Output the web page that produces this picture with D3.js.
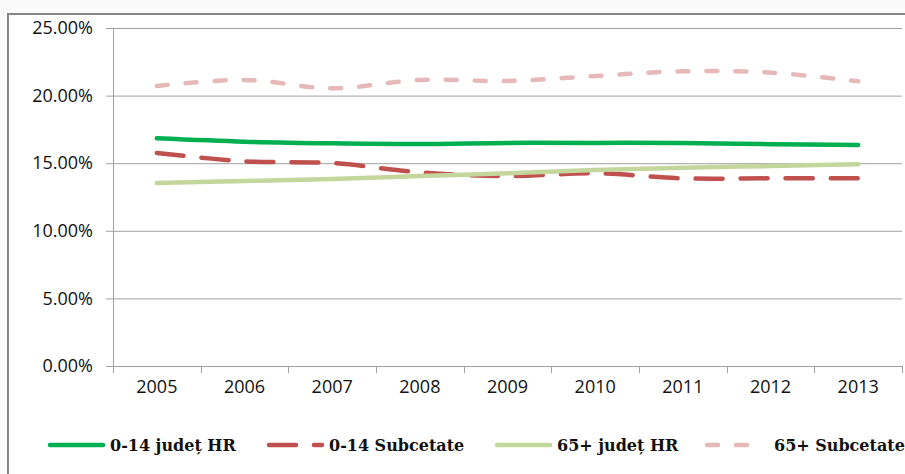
<!DOCTYPE html>
<html>
<head>
<meta charset="utf-8">
<script src="https://cdn.jsdelivr.net/npm/d3@7"></script>
<style>
  html, body { margin: 0; padding: 0; background: #fafafa; }
  svg { display: block; }
</style>
</head>
<body>
<div id="chart"></div>
<script>
// categories + series (percent values)
var years = ['2005', '2006', '2007', '2008', '2009', '2010', '2011', '2012', '2013'];
var judet014 = [16.84, 16.59, 16.47, 16.42, 16.50, 16.50, 16.50, 16.41, 16.35];
var subcetate014 = [15.76, 15.14, 15.01, 14.32, 14.05, 14.25, 13.88, 13.88, 13.88];
var judet65 = [13.53, 13.68, 13.83, 14.05, 14.25, 14.50, 14.67, 14.79, 14.92];
var subcetate65 = [20.71, 21.16, 20.54, 21.16, 21.08, 21.45, 21.80, 21.70, 21.06];
var seriesNames = ['0-14 județ HR', '0-14 Subcetate', '65+ județ HR', '65+ Subcetate'];
var yTicks = [0, 5, 10, 15, 20, 25];

var width = 905, height = 474;
var plot = { left: 113, right: 902, top: 28, bottom: 366 };

var svg = d3.select('#chart').append('svg')
  .attr('width', width)
  .attr('height', height);

// chart area (border on top and left, rest cropped off)
svg.append('rect')
  .attr('x', 8).attr('y', 14)
  .attr('width', width).attr('height', height)
  .attr('fill', '#fff')
  .attr('stroke', '#868686')
  .attr('stroke-width', 2);

var x = d3.scaleBand().domain(years).range([plot.left, plot.right]);
var y = d3.scaleLinear().domain([0, 25]).range([plot.bottom, plot.top]);

// gridlines
svg.append('g')
  .attr('transform', 'translate(' + plot.left + ',0)')
  .call(d3.axisLeft(y).tickValues(yTicks).tickSize(-(plot.right - plot.left)).tickFormat(''))
  .call(function (g) {
    g.select('.domain').remove();
    g.selectAll('line').attr('stroke', '#a0a0a0');
  });

// y axis
svg.append('g')
  .attr('transform', 'translate(' + plot.left + ',0)')
  .call(d3.axisLeft(y).tickValues(yTicks).tickSize(7).tickPadding(13)
    .tickFormat(function (d) { return d.toFixed(2) + '%'; }))
  .call(function (g) {
    g.select('.domain').attr('stroke', '#a0a0a0').attr('d', 'M0.5,' + plot.top + 'V' + plot.bottom);
    g.selectAll('line').attr('stroke', '#a0a0a0');
    g.selectAll('text')
      .attr('font-family', '"Open Sans", sans-serif')
      .attr('font-size', 18)
      .attr('fill', '#111');
  });

// x axis: labels centred in bands, tick marks on band edges
svg.append('g')
  .attr('transform', 'translate(0,' + plot.bottom + ')')
  .call(d3.axisBottom(x).tickSize(0).tickPadding(14))
  .call(function (g) {
    g.select('.domain').attr('stroke', '#a0a0a0').attr('d', 'M' + plot.left + ',0.5H' + plot.right);
    g.selectAll('text')
      .attr('font-family', '"Open Sans", sans-serif')
      .attr('font-size', 18)
      .attr('fill', '#111');
  });

var edges = years.map(function (d) { return x(d); }).concat([plot.right]);
svg.append('g')
  .selectAll('line')
  .data(edges)
  .enter()
  .append('line')
  .attr('x1', function (d) { return Math.round(d) + 0.5; })
  .attr('x2', function (d) { return Math.round(d) + 0.5; })
  .attr('y1', plot.bottom)
  .attr('y2', plot.bottom + 7)
  .attr('stroke', '#a0a0a0');

// series
var series = [
  { name: seriesNames[0], values: judet014, color: '#00b050', dash: null, width: 4.5 },
  { name: seriesNames[1], values: subcetate014, color: '#c0504d', dash: '27,18', width: 4.5 },
  { name: seriesNames[2], values: judet65, color: '#c3d69b', dash: null, width: 4.5 },
  { name: seriesNames[3], values: subcetate65, color: '#e6b9b8', dash: '11,18', width: 4.5 }
];

var line = d3.line()
  .x(function (d, i) { return x(years[i]) + x.bandwidth() / 2; })
  .y(function (d) { return y(d); })
  .curve(d3.curveCatmullRom.alpha(0.5));

svg.append('g')
  .selectAll('path')
  .data(series)
  .enter()
  .append('path')
  .attr('d', function (d) { return line(d.values); })
  .attr('fill', 'none')
  .attr('stroke', function (d) { return d.color; })
  .attr('stroke-width', function (d) { return d.width; })
  .attr('stroke-linecap', 'round')
  .attr('stroke-dasharray', function (d) { return d.dash; });

// legend
var legendX = [48, 267, 495, 705];
var legendTextX = [110, 329, 557, 774];
var legendY = 445;
var legend = svg.append('g')
  .selectAll('g')
  .data(series)
  .enter()
  .append('g');

legend.append('line')
  .attr('x1', function (d, i) { return legendX[i] + 2; })
  .attr('x2', function (d, i) { return legendX[i] + 55; })
  .attr('y1', legendY)
  .attr('y2', legendY)
  .attr('stroke', function (d) { return d.color; })
  .attr('stroke-width', function (d) { return d.width; })
  .attr('stroke-linecap', 'round')
  .attr('stroke-dasharray', function (d) { return d.dash; });

legend.append('text')
  .attr('x', function (d, i) { return legendTextX[i]; })
  .attr('y', legendY + 6)
  .attr('font-family', '"DejaVu Serif", serif')
  .attr('font-weight', 'bold')
  .attr('font-size', 16)
  .attr('fill', '#111')
  .text(function (d) { return d.name; });
</script>
</body>
</html>
